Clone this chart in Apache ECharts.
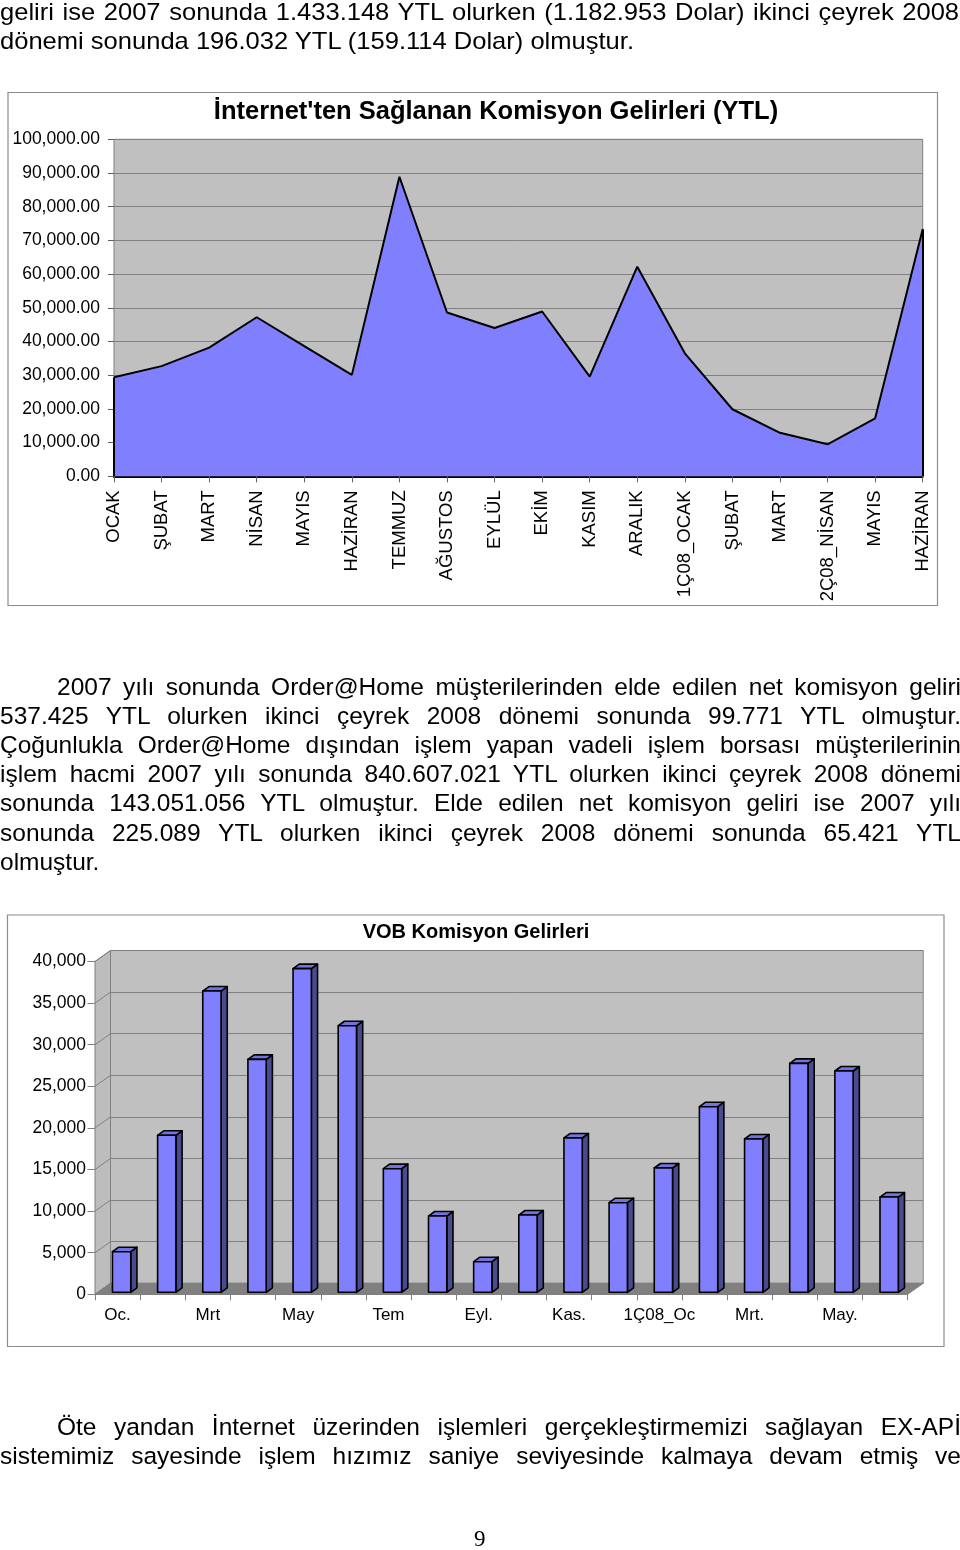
<!DOCTYPE html>
<html>
<head>
<meta charset="utf-8">
<script src="https://cdn.jsdelivr.net/npm/echarts@6/dist/echarts.min.js"></script>
<style>
  html,body{margin:0;padding:0;background:#fff;}
  body{width:960px;height:1550px;position:relative;overflow:hidden;font-family:"Liberation Sans",Arial,sans-serif;color:#000;}
  #c{position:absolute;left:0;top:0;width:960px;height:1550px;}
  .ln{position:absolute;white-space:nowrap;z-index:5;}
</style>
</head>
<body>
<div id="c"></div>
<script>
// ---------- data ----------
const areaCategories = ['OCAK','ŞUBAT','MART','NİSAN','MAYIS','HAZİRAN','TEMMUZ','AĞUSTOS','EYLÜL','EKİM','KASIM','ARALIK','1Ç08_OCAK','ŞUBAT','MART','2Ç08_NİSAN','MAYIS','HAZİRAN'];
const areaValues = [29400, 32700, 38200, 47200, 38600, 30100, 88900, 48600, 44000, 48900, 29600, 62200, 36500, 19900, 12900, 9500, 17200, 73300];
const areaTitle = "İnternet'ten Sağlanan Komisyon Gelirleri (YTL)";

const barCategories = ['Oc.','Şub.','Mrt','Nis.','May','Haz.','Tem','Ağu.','Eyl.','Ekm.','Kas.','Ara.','1Ç08_Oc','Şub.','Mrt.','Nis.','May.','Haz.'];
const barValues = [4880, 18870, 36210, 28000, 38900, 32040, 14860, 9170, 3680, 9290, 18550, 10770, 14940, 22310, 18430, 27520, 26600, 11450];
const barTitle = 'VOB Komisyon Gelirleri';
const barTicks = [0, 5000, 10000, 15000, 20000, 25000, 30000, 35000, 40000];

const topLines = ['geliri ise 2007 sonunda 1.433.148 YTL olurken (1.182.953 Dolar) ikinci çeyrek 2008',
                  'dönemi sonunda 196.032 YTL (159.114 Dolar) olmuştur.'];
const midLines = ['2007 yılı sonunda Order@Home müşterilerinden elde edilen net komisyon geliri',
                  '537.425 YTL olurken ikinci çeyrek 2008 dönemi sonunda 99.771 YTL olmuştur.',
                  'Çoğunlukla Order@Home dışından işlem yapan vadeli işlem borsası müşterilerinin',
                  'işlem hacmi 2007 yılı sonunda 840.607.021 YTL olurken ikinci çeyrek 2008 dönemi',
                  'sonunda 143.051.056 YTL olmuştur. Elde edilen net komisyon geliri ise 2007 yılı',
                  'sonunda 225.089 YTL olurken ikinci çeyrek 2008 dönemi sonunda 65.421 YTL',
                  'olmuştur.'];
const botLines = ['Öte yandan İnternet üzerinden işlemleri gerçekleştirmemizi sağlayan EX-APİ',
                  'sistemimiz sayesinde işlem hızımız saniye seviyesinde kalmaya devam etmiş ve'];
const pageNumber = '9';

// ---------- text ----------
const SANS = '"Liberation Sans", Arial, sans-serif';
function addLine(o){
  const d = document.createElement('div');
  d.className = 'ln';
  d.textContent = o.t;
  d.style.left = o.x + 'px';
  d.style.top = (o.cy - o.fs/2) + 'px';
  d.style.fontSize = o.fs + 'px';
  d.style.lineHeight = o.fs + 'px';
  d.style.fontFamily = o.ff || SANS;
  document.body.appendChild(d);
  const nat = d.getBoundingClientRect().width;
  let sc = o.sc || 1;
  if (o.w && nat*sc > o.w) sc = o.w/nat;
  if (o.w && o.j) {
    d.style.whiteSpace = 'normal';
    d.style.width = (o.w/sc + 1) + 'px';
    d.style.textAlign = 'justify';
    d.style.textAlignLast = 'justify';
  }
  if (sc !== 1) { d.style.transform = 'scaleX(' + sc + ')'; d.style.transformOrigin = '0 0'; }
  return nat;
}
// top paragraph
(function(){
  const probe = document.createElement('span');
  probe.style.cssText = 'position:absolute;visibility:hidden;white-space:nowrap;font-size:24px;font-family:' + SANS;
  probe.textContent = topLines[1];
  document.body.appendChild(probe);
  const sc = 634 / probe.getBoundingClientRect().width;
  probe.remove();
  addLine({t: topLines[0], x: 0, cy: 12, fs: 24, w: 958, j: true, sc: sc});
  addLine({t: topLines[1], x: 0, cy: 41, fs: 24, sc: sc});
})();
const midY = [687, 716, 745, 774, 803, 833, 862];
midLines.forEach((t, i) => {
  const last = i === midLines.length - 1;
  addLine({t: t, x: i === 0 ? 57 : 0, cy: midY[i], fs: 24.5, w: last ? null : (i === 0 ? 903 : 960), j: !last});
});
const botY = [1427, 1456];
botLines.forEach((t, i) => {
  addLine({t: t, x: i === 0 ? 57 : 0, cy: botY[i], fs: 24.5, w: i === 0 ? 903 : 960, j: true});
});
addLine({t: pageNumber, x: 474, cy: 1538, fs: 23, ff: '"Liberation Serif", "Times New Roman", serif'});

// ---------- chart ----------
function fmt(v, dec){
  const s = dec ? v.toFixed(dec) : String(Math.round(v));
  const parts = s.split('.');
  parts[0] = parts[0].replace(/\B(?=(\d{3})+(?!\d))/g, ',');
  return parts.join('.');
}
const DEPTH = {x: 15.5, y: -11};
const BOX = '#8c8c8c';

const chart = echarts.init(document.getElementById('c'), null, {renderer: 'canvas'});

function renderWalls(params, api){
  const cs = params.coordSys;
  const v = api.value(1);
  const p = api.coord([0, v]);
  const x0 = cs.x;
  const children = [];
  if (params.dataIndex === 0) {
    const yt = cs.y, yb = cs.y + cs.height, xr = cs.x + cs.width;
    children.push({type: 'polygon', shape: {points: [[x0, yb], [x0, yt], [x0 + DEPTH.x, yt + DEPTH.y], [x0 + DEPTH.x, yb + DEPTH.y]]},
                   style: {fill: '#bdbdbd', stroke: '#808080', lineWidth: 1}});
    children.push({type: 'polygon', shape: {points: [[x0, yb], [xr, yb], [xr + DEPTH.x, yb + DEPTH.y], [x0 + DEPTH.x, yb + DEPTH.y]]},
                   style: {fill: '#808080', stroke: '#808080', lineWidth: 1}});
  }
  children.push({type: 'line', shape: {x1: x0, y1: p[1], x2: x0 + DEPTH.x, y2: p[1] + DEPTH.y},
                 style: {stroke: '#808080', lineWidth: 1}});
  return {type: 'group', children: children};
}

function renderBar(params, api){
  const i = api.value(0), v = api.value(1);
  const top = api.coord([i, v]);
  const base = api.coord([i, 0]);
  const cw = api.size([1, 0])[0];
  const w = cw * 0.405;
  const sx = DEPTH.x * 0.26, sy = DEPTH.y * 0.18;
  const dx = DEPTH.x * 0.4, dy = DEPTH.y * 0.41;
  const x0 = top[0] - w/2 + sx, x1 = x0 + w;
  const y0 = top[1] + sy, y1 = base[1] + sy;
  const st = {stroke: '#000', lineWidth: 1.6, lineJoin: 'round'};
  return {type: 'group', children: [
    {type: 'polygon', shape: {points: [[x1, y0], [x1 + dx, y0 + dy], [x1 + dx, y1 + dy], [x1, y1]]}, style: Object.assign({fill: '#4a4a8e'}, st)},
    {type: 'polygon', shape: {points: [[x0, y0], [x0 + dx, y0 + dy], [x1 + dx, y0 + dy], [x1, y0]]}, style: Object.assign({fill: '#7373dd'}, st)},
    {type: 'rect', shape: {x: x0, y: y0, width: w, height: y1 - y0}, style: Object.assign({fill: '#8080ff'}, st)}
  ]};
}

const nA = areaValues.length;
const option = {
  animation: false,
  backgroundColor: 'transparent',
  textStyle: {fontFamily: SANS, color: '#000'},
  title: [
    {text: areaTitle, left: 496, top: 99, textAlign: 'center', padding: 0,
     textStyle: {fontSize: 25.5, fontWeight: 'bold', color: '#000', fontFamily: SANS}},
    {text: barTitle, left: 476, top: 922, textAlign: 'center', padding: 0,
     textStyle: {fontSize: 20, fontWeight: 'bold', color: '#000', fontFamily: SANS}}
  ],
  graphic: [
    {type: 'rect', shape: {x: 8, y: 92.5, width: 929.5, height: 513}, style: {fill: 'none', stroke: BOX, lineWidth: 1.2}, z: -10, silent: true},
    {type: 'rect', shape: {x: 7.5, y: 915, width: 936.5, height: 431.5}, style: {fill: 'none', stroke: BOX, lineWidth: 1.2}, z: -10, silent: true}
  ],
  grid: [
    {left: 114, top: 139.3, width: 808.7, height: 337, show: true, backgroundColor: '#c0c0c0', borderColor: '#808080', borderWidth: 1},
    {left: 95, top: 961.5, width: 812.7, height: 332.8, show: false},
    {left: 95 + DEPTH.x, top: 961.5 + DEPTH.y, width: 812.7, height: 332.8, show: true, backgroundColor: '#c0c0c0', borderColor: '#808080', borderWidth: 1}
  ],
  xAxis: [
    {gridIndex: 0, type: 'category', data: areaCategories, boundaryGap: false,
     axisLine: {show: true, lineStyle: {color: '#000', width: 2}},
     axisTick: {show: true, length: 6, interval: 0, lineStyle: {color: '#606060'}},
     axisLabel: {rotate: 90, interval: 0, fontSize: 18.5, margin: 14, color: '#000', fontFamily: SANS},
     splitLine: {show: false}},
    {gridIndex: 1, type: 'category', data: barCategories, boundaryGap: true,
     axisLine: {show: true, lineStyle: {color: '#808080', width: 1}},
     axisTick: {show: true, length: 6, interval: 0, lineStyle: {color: '#808080'}},
     axisLabel: {interval: 1, fontSize: 17, margin: 13, color: '#000', fontFamily: SANS},
     splitLine: {show: false}},
    {gridIndex: 2, type: 'category', data: barCategories, boundaryGap: true,
     axisLine: {show: false}, axisTick: {show: false}, axisLabel: {show: false}, splitLine: {show: false}}
  ],
  yAxis: [
    {gridIndex: 0, type: 'value', min: 0, max: 100000, interval: 10000,
     axisLine: {show: false},
     axisTick: {show: true, length: 6, lineStyle: {color: '#606060'}},
     axisLabel: {fontSize: 17.5, margin: 14, color: '#000', fontFamily: SANS, formatter: v => fmt(v, 2)},
     splitLine: {show: true, lineStyle: {color: '#808080', width: 1}}},
    {gridIndex: 1, type: 'value', min: 0, max: 40000, interval: 5000,
     axisLine: {show: true, lineStyle: {color: '#808080', width: 1}},
     axisTick: {show: true, length: 7.5, lineStyle: {color: '#808080'}},
     axisLabel: {fontSize: 17.5, margin: 9, color: '#000', fontFamily: SANS, formatter: v => fmt(v, 0)},
     splitLine: {show: false}},
    {gridIndex: 2, type: 'value', min: 0, max: 40000, interval: 5000,
     axisLine: {show: false}, axisTick: {show: false}, axisLabel: {show: false},
     splitLine: {show: true, lineStyle: {color: '#808080', width: 1}}}
  ],
  series: [
    {type: 'line', xAxisIndex: 0, yAxisIndex: 0, data: areaValues, symbol: 'none', z: 3,
     lineStyle: {color: '#000', width: 2}, areaStyle: {color: '#8080ff', opacity: 1},
     markLine: {silent: true, symbol: ['none', 'none'], label: {show: false},
       lineStyle: {color: '#000', width: 2, type: 'solid'},
       data: [
         [{coord: [0, 0]}, {coord: [0, areaValues[0]]}],
         [{coord: [nA - 1, 0]}, {coord: [nA - 1, areaValues[nA - 1]]}]
       ]}},
    {type: 'custom', xAxisIndex: 1, yAxisIndex: 1, z: 1, silent: true,
     data: barTicks.map(v => [0, v]), renderItem: renderWalls},
    {type: 'custom', xAxisIndex: 1, yAxisIndex: 1, z: 4,
     data: barValues.map((v, i) => [i, v]), renderItem: renderBar}
  ]
};
chart.setOption(option);
</script>
</body>
</html>
